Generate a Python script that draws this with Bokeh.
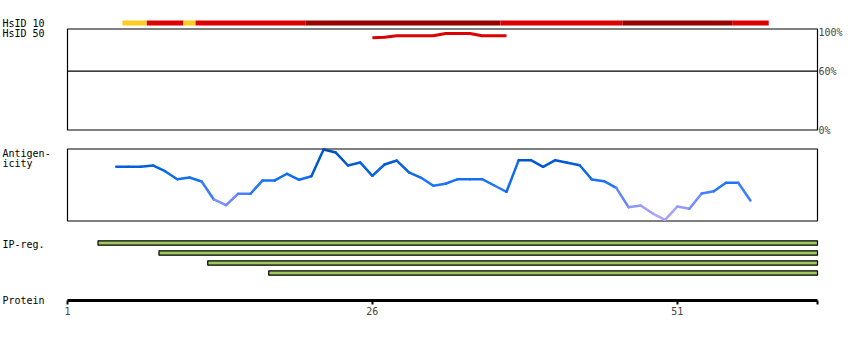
import numpy as np
from bokeh.plotting import figure
from bokeh.models import Range1d, LinearAxis, FixedTicker, Label, ColumnDataSource
from bokeh.embed import file_html
from bokeh.resources import INLINE

# ---------------- data ----------------
protein_length = 62
tick_residues = [1, 26, 51]

# HsID 10 track: residue runs (inclusive) and identity class
hs10_first = [6, 8, 11, 12, 21, 37, 47, 56]
hs10_last = [7, 10, 11, 20, 36, 46, 55, 58]
hs10_class = ["low", "mid", "low", "mid", "high", "mid", "high", "mid"]

# HsID 50 identity (%) per residue
hs50_pos = [26, 27, 28, 29, 30, 31, 32, 33, 34, 35, 36, 37]
hs50_pct = [94.1, 94.6, 96.1, 96.1, 96.1, 96.1, 98.5, 98.5, 98.5, 96.1, 96.1, 96.1]

# Antigenicity (normalised 0..1) per residue
antigen_pos = list(range(5, 58))
antigen_val = [0.746, 0.746, 0.746, 0.764, 0.685, 0.574, 0.597, 0.542, 0.292, 0.213,
               0.371, 0.371, 0.556, 0.556, 0.649, 0.565, 0.615, 0.986, 0.944, 0.764,
               0.806, 0.621, 0.778, 0.833, 0.667, 0.593, 0.482, 0.510, 0.574, 0.574,
               0.574, 0.486, 0.399, 0.838, 0.838, 0.746, 0.838, 0.801, 0.768, 0.569,
               0.546, 0.454, 0.185, 0.208, 0.097, 0.010, 0.194, 0.163, 0.375, 0.407,
               0.524, 0.524, 0.278]

# IP-regions
ip_first = [4, 9, 13, 18]
ip_last = [62, 62, 62, 62]

# track labels
track_labels = ["HsID 10", "HsID 50", "Antigen-", "icity", "IP-reg.", "Protein"]

# ---------------- styles / layout ----------------
FONT = "DejaVu Sans Mono"
FS = "10px"
W, H = 850, 340
SEQ_PX0 = 67            # pixel of residue 1
px_per_res = 750 / (protein_length + 0.5 - 1)
x_start = 1 - SEQ_PX0 / px_per_res
x_end = 1 + (W - SEQ_PX0) / px_per_res

hs10_colors = {"low": "#ffcc22", "mid": "#dd0000", "high": "#990000"}
label_rows = [22.5, 32.7, 152.7, 163, 243.7, 299.7]
PROTEIN_ROW = 299.5


def band_range(v_a, px_a, v_b, px_b):
    k = (v_b - v_a) / (px_a - px_b)
    return Range1d(v_a - (H - px_a) * k, v_a + px_a * k)


p = figure(width=W, height=H, output_backend="svg", toolbar_location=None,
           x_range=Range1d(x_start, x_end), y_range=Range1d(H, 0),
           x_axis_location=None, y_axis_location=None,
           min_border=0, outline_line_color=None,
           background_fill_color="white", border_fill_color="white")
p.grid.visible = False

p.extra_y_ranges = {
    "hs10": band_range(0, 25, 1, 20),
    "hs50": band_range(0, 129.5, 100, 31.5),
    "ant": band_range(0, 220, 1, 148),
    "ip": band_range(0, 242.5, 3, 272.5),
}

seq_left = 1
seq_right = protein_length + 0.5

# panel boxes
p.quad(left=[seq_left, seq_left], right=[seq_right, seq_right],
       top=[28.5, 148.5], bottom=[129.5, 220.5],
       fill_color=None, line_color="black", line_width=1.2)

# HsID 10 track
src10 = ColumnDataSource(dict(
    left=[f - 0.5 for f in hs10_first],
    right=[l + 0.5 for l in hs10_last],
    color=[hs10_colors[c] for c in hs10_class]))
p.quad(left="left", right="right", bottom=0, top=1, fill_color="color",
       line_color=None, source=src10, y_range_name="hs10")

# HsID 50
p.segment(x0=[seq_left], x1=[seq_right], y0=[60], y1=[60], line_color="black",
          line_width=1.2, y_range_name="hs50")
p.line(hs50_pos, hs50_pct, line_color="#dd0000", line_width=3, y_range_name="hs50")

# Antigenicity, coloured by value
v = np.array(antigen_val)
mid = (v[:-1] + v[1:]) / 2
anchors = [0.0, 0.15, 0.3, 0.45, 0.6, 0.8, 1.0]
rs = [185, 158, 105, 40, 16, 0, 0]
gs = [168, 158, 135, 120, 110, 90, 72]
bs = [255, 255, 255, 255, 240, 210, 176]
seg_colors = ["#%02x%02x%02x" % (int(np.interp(m, anchors, rs)),
                                 int(np.interp(m, anchors, gs)),
                                 int(np.interp(m, anchors, bs))) for m in mid]
p.segment(x0=antigen_pos[:-1], x1=antigen_pos[1:], y0=antigen_val[:-1],
          y1=antigen_val[1:], line_color=seg_colors, line_width=2.5,
          line_cap="round", y_range_name="ant")

# IP regions
rows = list(range(len(ip_first)))
p.quad(left=[f - 0.5 for f in ip_first], right=[l + 0.5 for l in ip_last],
       top=[r - 0.22 for r in rows], bottom=[r + 0.22 for r in rows],
       fill_color="#a0c860", line_color="black", line_width=1.2,
       y_range_name="ip")

# right percentage axis (fixed at sequence end)
ax_r = LinearAxis(y_range_name="hs50", ticker=FixedTicker(ticks=[0, 60, 100]),
                  fixed_location=seq_right,
                  major_label_overrides={0: "0%", 60: "60%", 100: "100%"},
                  axis_line_color=None, major_tick_line_color=None,
                  major_tick_in=0, major_tick_out=0,
                  minor_tick_line_color=None, minor_tick_in=0, minor_tick_out=0,
                  major_label_standoff=1,
                  major_label_text_font=FONT, major_label_text_font_size=FS)
p.add_layout(ax_r, "right")

# protein axis (fixed at protein row)
ax_b = LinearAxis(ticker=FixedTicker(ticks=tick_residues + [seq_right]),
                  fixed_location=PROTEIN_ROW,
                  major_label_overrides={seq_right: ""},
                  bounds=(seq_left, seq_right),
                  axis_line_color="black", axis_line_width=3,
                  major_tick_line_color="black", major_tick_line_width=2,
                  major_tick_in=0, major_tick_out=4,
                  minor_tick_line_color=None, major_label_standoff=3,
                  major_label_text_font=FONT, major_label_text_font_size=FS)
p.add_layout(ax_b, "below")

# left track labels
for txt, yy in zip(track_labels, label_rows):
    p.add_layout(Label(x=2, x_units="screen", y=yy, y_units="data", text=txt,
                       text_baseline="middle", text_align="left", text_font=FONT,
                       text_font_size=FS, text_color="black"))

open("out.html", "w").write(file_html(p, INLINE))
